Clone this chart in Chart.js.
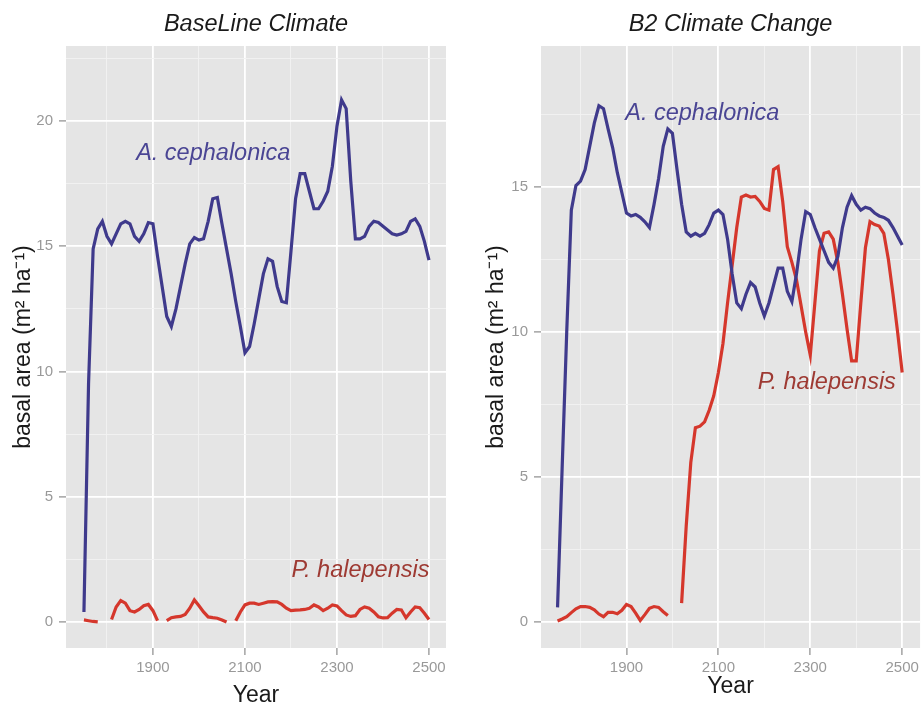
<!DOCTYPE html>
<html>
<head>
<meta charset="utf-8">
<script src="https://cdn.jsdelivr.net/npm/chart.js@4.4.0/dist/chart.umd.min.js"></script>
<style>
  html, body { margin: 0; padding: 0; background: #fff; }
  #wrap { position: relative; width: 923px; height: 707px; }
  .panel { position: absolute; top: 0; height: 707px; }
  #left { left: 0; width: 460px; }
  #right { left: 460px; width: 463px; }
</style>
</head>
<body>
<div id="wrap">
  <div class="panel" id="left"><canvas id="baseChart"></canvas></div>
  <div class="panel" id="right"><canvas id="b2Chart"></canvas></div>
</div>
<script>
// simulation years, one value per decade
const years = [
  1750, 1760, 1770, 1780, 1790, 1800, 1810, 1820, 1830, 1840,
  1850, 1860, 1870, 1880, 1890, 1900, 1910, 1920, 1930, 1940,
  1950, 1960, 1970, 1980, 1990, 2000, 2010, 2020, 2030, 2040,
  2050, 2060, 2070, 2080, 2090, 2100, 2110, 2120, 2130, 2140,
  2150, 2160, 2170, 2180, 2190, 2200, 2210, 2220, 2230, 2240,
  2250, 2260, 2270, 2280, 2290, 2300, 2310, 2320, 2330, 2340,
  2350, 2360, 2370, 2380, 2390, 2400, 2410, 2420, 2430, 2440,
  2450, 2460, 2470, 2480, 2490, 2500
];

// BaseLine climate, basal area (m2/ha)
const baseFir = [
  0.4, 9.5, 14.9, 15.7, 16.0, 15.4, 15.1, 15.5, 15.9, 16.0,
  15.9, 15.4, 15.2, 15.5, 15.95, 15.9, 14.6, 13.4, 12.2, 11.8,
  12.5, 13.4, 14.3, 15.1, 15.35, 15.25, 15.3, 16.0, 16.9, 16.95,
  15.9, 14.9, 13.9, 12.8, 11.8, 10.75, 11.0, 11.9, 12.9, 13.9,
  14.5, 14.4, 13.4, 12.8, 12.75, 14.8, 16.9, 17.9, 17.9, 17.2,
  16.5, 16.5, 16.8, 17.2, 18.2, 19.8, 20.85, 20.5, 17.6, 15.3,
  15.3, 15.4, 15.8, 16.0, 15.95, 15.8, 15.65, 15.5, 15.45, 15.5,
  15.6, 16.0, 16.1, 15.8, 15.2, 14.45
];
const basePine = [
  0.08, 0.05, 0.02, 0.0, null, null, 0.1, 0.6, 0.85, 0.75,
  0.45, 0.4, 0.5, 0.65, 0.7, 0.45, 0.05, null, 0.05, 0.17,
  0.2, 0.22, 0.3, 0.55, 0.88, 0.65, 0.4, 0.2, 0.17, 0.15,
  0.08, 0.0, null, 0.05, 0.4, 0.68, 0.75, 0.75, 0.7, 0.75,
  0.8, 0.81, 0.8, 0.7, 0.55, 0.45, 0.47, 0.48, 0.5, 0.55,
  0.68, 0.6, 0.45, 0.55, 0.68, 0.64, 0.45, 0.28, 0.22, 0.25,
  0.5, 0.6, 0.55, 0.4, 0.21, 0.16, 0.17, 0.35, 0.5, 0.48,
  0.17, 0.4, 0.6, 0.57, 0.35, 0.1
];

// B2 climate change, basal area (m2/ha)
const b2Fir = [
  0.5, 5.3, 10.0, 14.2, 15.05, 15.2, 15.6, 16.4, 17.2, 17.8,
  17.7, 17.0, 16.35, 15.5, 14.8, 14.1, 14.0, 14.05, 13.95, 13.8,
  13.6, 14.4, 15.3, 16.4, 17.0, 16.85, 15.6, 14.4, 13.45, 13.3,
  13.4, 13.3, 13.4, 13.7, 14.1, 14.2, 14.05, 13.2, 12.0, 11.0,
  10.8, 11.3, 11.7, 11.55, 11.0, 10.55, 11.0, 11.6, 12.2, 12.2,
  11.4, 11.05, 12.0, 13.2, 14.15, 14.05, 13.6, 13.2, 12.8, 12.4,
  12.2, 12.6, 13.6, 14.3, 14.7, 14.4, 14.2, 14.3, 14.25, 14.1,
  14.0, 13.95, 13.85, 13.6, 13.3, 13.0
];
const b2Pine = [
  0.03, 0.1, 0.18, 0.32, 0.45, 0.53, 0.53, 0.5, 0.42, 0.27,
  0.18, 0.33, 0.33, 0.28, 0.4, 0.6, 0.53, 0.3, 0.05, 0.25,
  0.47, 0.53, 0.5, 0.35, 0.22, null, null, 0.65, 3.3, 5.5,
  6.7, 6.75, 6.9, 7.3, 7.8, 8.6, 9.6, 11.0, 12.3, 13.6,
  14.65, 14.72, 14.65, 14.67, 14.5, 14.26, 14.2, 15.6, 15.7, 14.5,
  12.94, 12.4, 11.8, 10.9, 10.0, 9.2, 11.0, 12.8, 13.4, 13.45,
  13.2, 12.4, 11.3, 10.1, 9.0, 9.0, 11.0, 12.9, 13.8, 13.7,
  13.65, 13.4, 12.5, 11.3, 10.0, 8.6
];

const yearTicks = [1800, 1900, 2000, 2100, 2200, 2300, 2400, 2500];
const baseTicks = [0, 2.5, 5, 7.5, 10, 12.5, 15, 17.5, 20, 22.5];
const b2Ticks = [0, 2.5, 5, 7.5, 10, 12.5, 15, 17.5];

const firColor = '#3f3a8c';
const pineColor = '#d5372c';
const fontFamily = '"Liberation Sans", Arial, sans-serif';

const panelBackground = {
  id: 'panelBackground',
  beforeDraw(chart) {
    const {ctx, chartArea: a} = chart;
    ctx.save();
    ctx.fillStyle = '#e5e5e5';
    ctx.fillRect(a.left, a.top, a.right - a.left, a.bottom - a.top);
    ctx.restore();
  }
};

const speciesLabels = {
  id: 'speciesLabels',
  afterDatasetsDraw(chart, args, opts) {
    const {ctx, scales: {x, y}} = chart;
    ctx.save();
    ctx.font = 'italic 23.5px ' + fontFamily;
    ctx.textAlign = 'center';
    ctx.textBaseline = 'middle';
    opts.items.forEach(it => {
      ctx.fillStyle = it.color;
      ctx.fillText(it.text, x.getPixelForValue(it.x), y.getPixelForValue(it.y));
    });
    ctx.restore();
  }
};

function toPoints(vals) {
  return years.map((yr, i) => ({x: yr, y: vals[i]}));
}

function panelConfig(p) {
  return {
    type: 'line',
    data: {
      datasets: [{
        label: 'A. cephalonica',
        data: toPoints(p.fir),
        borderColor: firColor,
        borderWidth: 3.2,
        pointRadius: 0,
        tension: 0
      }, {
        label: 'P. halepensis',
        data: toPoints(p.pine),
        borderColor: pineColor,
        borderWidth: 3.2,
        pointRadius: 0,
        tension: 0
      }]
    },
    options: {
      responsive: true,
      maintainAspectRatio: false,
      animation: false,
      layout: { padding: { left: 0, right: p.padRight, top: 0, bottom: 0 } },
      plugins: {
        legend: { display: false },
        tooltip: { enabled: false },
        title: {
          display: true,
          text: p.title,
          fullSize: false,
          color: '#1a1a1a',
          font: { family: fontFamily, size: 23.5, style: 'italic', weight: 'normal', lineHeight: 1.2 },
          padding: { top: 9.9, bottom: 7.9 }
        },
        speciesLabels: { items: p.labels }
      },
      scales: {
        x: {
          type: 'linear',
          min: p.xMin,
          max: p.xMax,
          afterBuildTicks: s => { s.ticks = yearTicks.map(v => ({value: v})); },
          afterFit: s => { s.height = 59; },
          border: { display: false },
          grid: {
            color: c => (c.tick && (c.tick.value - 1900) % 200 === 0) ? '#ffffff' : '#f2f2f2',
            lineWidth: c => (c.tick && (c.tick.value - 1900) % 200 === 0) ? 1.8 : 0.9,
            tickColor: c => (c.tick && (c.tick.value - 1900) % 200 === 0) ? '#8c8c8c' : 'rgba(0,0,0,0)',
            tickWidth: 1.2,
            tickLength: 7
          },
          ticks: {
            autoSkip: false,
            maxRotation: 0,
            padding: 4,
            color: '#999999',
            font: { family: fontFamily, size: 15 },
            callback: v => ((v - 1900) % 200 === 0) ? String(v) : ''
          },
          title: {
            display: true,
            text: 'Year',
            color: '#1a1a1a',
            font: { family: fontFamily, size: 23, lineHeight: 1 },
            padding: { top: 0, bottom: p.yearPad }
          }
        },
        y: {
          min: p.yMin,
          max: p.yMax,
          afterBuildTicks: s => { s.ticks = p.yTicks.map(v => ({value: v})); },
          afterFit: s => { s.width = p.axisWidth; },
          border: { display: false },
          grid: {
            color: c => (c.tick && c.tick.value % 5 === 0) ? '#ffffff' : '#f2f2f2',
            lineWidth: c => (c.tick && c.tick.value % 5 === 0) ? 1.8 : 0.9,
            tickColor: c => (c.tick && c.tick.value % 5 === 0) ? '#8c8c8c' : 'rgba(0,0,0,0)',
            tickWidth: 1.2,
            tickLength: 7
          },
          ticks: {
            padding: 6,
            color: '#999999',
            font: { family: fontFamily, size: 15 },
            callback: v => (v % 5 === 0) ? String(v) : ''
          },
          title: {
            display: true,
            text: 'basal area (m² ha⁻¹)',
            color: '#1a1a1a',
            font: { family: fontFamily, size: 23, lineHeight: 1 },
            padding: { top: p.titlePad, bottom: 0 }
          }
        }
      }
    },
    plugins: [panelBackground, speciesLabels]
  };
}

const baseChart = new Chart(document.getElementById('baseChart'), panelConfig({
  title: 'BaseLine Climate',
  fir: baseFir,
  pine: basePine,
  xMin: 1711, xMax: 2537,
  yMin: -1.04, yMax: 23.0,
  yTicks: baseTicks,
  axisWidth: 66,
  padRight: 14,
  titlePad: 12,
  yearPad: 0,
  labels: [
    { text: 'A. cephalonica', x: 2031, y: 18.7, color: '#4a4594' },
    { text: 'P. halepensis', x: 2351, y: 2.04, color: '#9e3a33' }
  ]
}));

const b2Chart = new Chart(document.getElementById('b2Chart'), panelConfig({
  title: 'B2 Climate Change',
  fir: b2Fir,
  pine: b2Pine,
  xMin: 1714, xMax: 2539,
  yMin: -0.9, yMax: 19.86,
  yTicks: b2Ticks,
  axisWidth: 81,
  padRight: 1,
  titlePad: 25,
  yearPad: 9,
  labels: [
    { text: 'A. cephalonica', x: 2065, y: 17.55, color: '#4a4594' },
    { text: 'P. halepensis', x: 2336, y: 8.24, color: '#9e3a33' }
  ]
}));
</script>
</body>
</html>
